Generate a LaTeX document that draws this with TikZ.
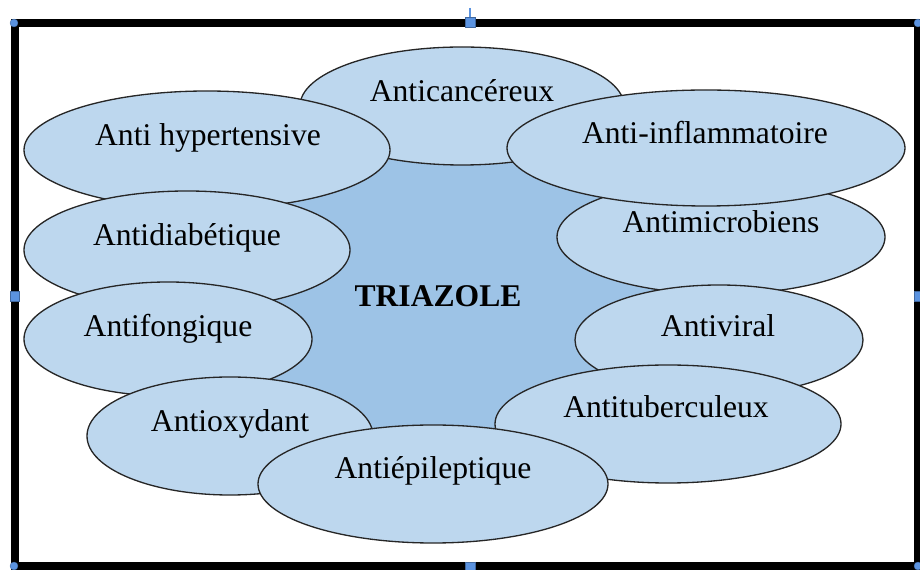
\documentclass[tikz,border=0pt]{standalone}
\usepackage{fontspec}
\setmainfont{Liberation Serif}
\usepackage{xcolor}
\definecolor{bulleblue}{HTML}{BDD7EE}
\definecolor{coeurblue}{HTML}{9DC3E6}
\definecolor{poignee}{HTML}{5B93E0}

\tikzset{
  bulle/.style={draw=black!85, line width=0.75pt, fill=bulleblue},
  lbl/.style={anchor=base, inner sep=0pt, font=\fontsize{18}{22}\selectfont},
  handle/.style={fill=poignee, draw=poignee!70!black, line width=0.2pt}
}

\begin{document}
\begin{tikzpicture}[x=0.02cm, y=-0.02cm]
    \useasboundingbox (0,0) rectangle (920,570);
    \fill[white] (0,0) rectangle (920,570);

    % cadre
    \draw[gray!60, line width=5pt] (15,23) rectangle (918,566);
    \draw[black, line width=4pt] (15,23) rectangle (918,566);

    % coeur
    \fill[coeurblue] (460,305) ellipse (240 and 190);

    % bulles, du fond vers le dessus
    \draw[bulle] (462,106) ellipse (162 and 59);
    \node[lbl] (cancer) at (462,102) {Anticancéreux};

    \draw[bulle] (207,150) ellipse (183 and 59);
    \node[lbl] (hyper) at (208,146) {Anti hypertensive};

    \draw[bulle] (187,250) ellipse (163 and 59);
    \node[lbl] (diab) at (187,246) {Antidiabétique};

    \draw[bulle] (168,339) ellipse (144 and 57);
    \node[lbl] (fong) at (168,337) {Antifongique};

    \draw[bulle] (230,436) ellipse (143 and 59);
    \node[lbl] (oxy) at (230,432) {Antioxydant};

    \draw[bulle] (721,237) ellipse (164 and 57);
    \node[lbl] (micro) at (721,233) {Antimicrobiens};

    \draw[bulle] (706,148) ellipse (199 and 58);
    \node[lbl] (inflam) at (705,144) {Anti-inflammatoire};

    \draw[bulle] (719,340) ellipse (144 and 55);
    \node[lbl] (viral) at (718,337) {Antiviral};

    \draw[bulle] (668,424) ellipse (173 and 59);
    \node[lbl] (tuber) at (666,418) {Antituberculeux};

    \draw[bulle] (433,484) ellipse (175 and 59);
    \node[lbl] (epi) at (433,479) {Antiépileptique};

    \node[lbl, font=\fontsize{18}{22}\selectfont\bfseries] (triazole) at (438,307) {TRIAZOLE};

    % poignees de selection
    \draw[poignee, line width=0.6pt] (470,8) -- (470,18);
    \filldraw[handle] (465,17) rectangle (475,27);
    \filldraw[handle] (10,291) rectangle (19,301);
    \filldraw[handle] (914,291) rectangle (923,301);
    \filldraw[handle] (465,562) rectangle (475,571);
    \filldraw[handle] (14,23) circle (4);
    \filldraw[handle] (14,566) circle (4);
    \filldraw[handle] (918,23) circle (4);
    \filldraw[handle] (918,566) circle (4);
\end{tikzpicture}
\end{document}
